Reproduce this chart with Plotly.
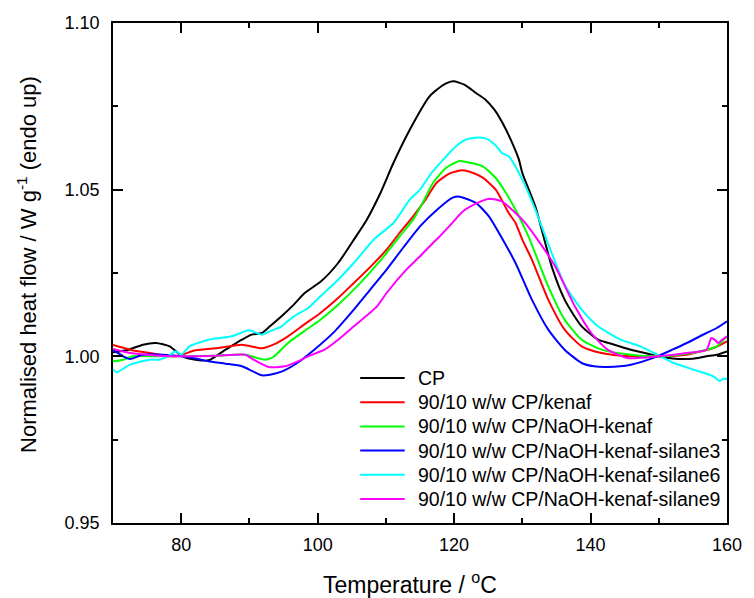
import plotly.graph_objects as go

# ---------------- data ----------------
cp_T = [70, 72, 74.4, 76.3, 78.3, 80.2, 82.1, 84, 86.5, 88.9, 90.3, 91.8, 93, 94.7, 96.5, 98.1,
        100.5, 103, 105.3, 107.2, 109.2, 111.1, 113.5, 116.4, 118.5, 119.9, 121.5, 123.2, 124.6,
        125.9, 127.1, 128.3, 129.5, 130, 131.9, 134.3, 136.2, 137.5, 138.7, 141.1, 143.5, 145.9,
        148, 149.8, 151.5, 153.1, 155, 157, 158.5, 160]
cp_v = [1.0012, 1.0018, 1.0035, 1.004, 1.003, 1.000, 0.999, 0.9988, 1.002, 1.005, 1.0065, 1.007,
        1.009, 1.012, 1.0155, 1.019, 1.0225, 1.028, 1.035, 1.041, 1.049, 1.058, 1.068, 1.078,
        1.0815, 1.0825, 1.0815, 1.079, 1.077, 1.074, 1.070, 1.065, 1.059, 1.055, 1.045, 1.027,
        1.017, 1.0125, 1.009, 1.005, 1.0035, 1.002, 1.001, 1.000, 0.9995, 0.9992, 0.9993, 1.000,
        1.0005, 1.0015]

kenaf_T = [70, 72.5, 75.4, 79.2, 82.1, 85.5, 88.9, 91.8, 93.5, 95.65, 98, 100.4, 103, 105.3,
           107.8, 110.1, 112, 114, 115.8, 117.4, 119.3, 121.2, 122.8, 124.2, 126.1, 128, 129,
           130, 131.4, 133.8, 136.2, 138.7, 141.6, 145.9, 149.8, 154.1, 158, 160]
kenaf_v = [1.0034, 1.002, 1.001, 1.000, 1.0018, 1.0025, 1.0035, 1.0024, 1.0035, 1.006, 1.0095,
           1.013, 1.0175, 1.022, 1.027, 1.032, 1.037, 1.042, 1.047, 1.052, 1.0548, 1.0558, 1.055,
           1.0536, 1.050, 1.043, 1.040, 1.035, 1.029, 1.017, 1.008, 1.003, 1.001, 1.000, 1.000,
           1.0005, 1.0025, 1.0045]

naoh_T = [70, 71.5, 72.9, 76, 80, 85, 89.4, 90.3, 92.3, 93.5, 95.65, 98, 100.4, 103, 105.3,
          107.8, 110.1, 112, 114, 115.5, 116.9, 118.8, 120.8, 122.5, 124.2, 126.1, 127.6, 129,
          130.9, 133.8, 136.2, 138.7, 141.6, 145.9, 149.8, 154.1, 157, 158.5, 160]
naoh_v = [0.9985, 0.999, 1.000, 1.000, 1.000, 1.0002, 1.0005, 1.000, 0.999, 0.9998, 1.004,
          1.0075, 1.011, 1.0155, 1.020, 1.0255, 1.031, 1.036, 1.041, 1.0465, 1.052, 1.0565,
          1.0586, 1.058, 1.057, 1.0535, 1.049, 1.044, 1.036, 1.021, 1.011, 1.005, 1.002, 1.0005,
          1.000, 1.0008, 1.002, 1.003, 1.006]

sil3_T = [70, 71.5, 72.5, 74.4, 77.3, 80, 82.5, 84, 86.5, 88.9, 90.5, 91.8, 93, 94.7, 97, 99.5,
          102.5, 105.3, 107.7, 110.1, 112.5, 115, 117.5, 119.8, 120.8, 123.2, 125.1, 127, 129,
          131.4, 133.8, 136.2, 138.7, 140.5, 142.5, 145.9, 149.8, 152, 154.1, 157, 158.5, 160]
sil3_v = [1.002, 1.000, 0.9992, 1.0005, 1.0005, 1.000, 0.9992, 0.9985, 0.9978, 0.997, 0.9955,
          0.9943, 0.9945, 0.9954, 0.998, 1.002, 1.0075, 1.014, 1.020, 1.026, 1.0325, 1.039, 1.044,
          1.0476, 1.0479, 1.046, 1.042, 1.0355, 1.028, 1.017, 1.008, 1.002, 0.998, 0.997, 0.9968,
          0.9975, 1.000, 1.002, 1.004, 1.007, 1.0085, 1.0105]

sil6_T = [70, 70.5, 72.5, 75.4, 76.8, 78, 79.2, 80, 81.2, 84, 87.4, 89.9, 91.8, 93, 94.7, 96.5,
          98.6, 100.4, 103, 105.3, 108.2, 111.1, 113.5, 115, 116.5, 118.4, 120, 121.7, 123, 124.6,
          126, 127, 128, 130, 131.9, 134.3, 136.2, 138.7, 141.1, 144.4, 147.3, 149.8, 152.2,
          155.1, 158, 158.9, 159.5, 160]
sil6_v = [0.9962, 0.9952, 0.9975, 0.999, 0.999, 1.000, 1.0015, 1.0005, 1.003, 1.005, 1.006,
          1.0078, 1.0065, 1.0075, 1.009, 1.012, 1.0145, 1.018, 1.023, 1.028, 1.035, 1.040, 1.047,
          1.050, 1.0545, 1.059, 1.0625, 1.065, 1.0656, 1.0654, 1.0635, 1.061, 1.060, 1.053, 1.044,
          1.031, 1.0215, 1.014, 1.009, 1.005, 1.003, 1.0005, 0.998, 0.996, 0.994, 0.9926, 0.9933,
          0.9932]

sil9_T = [70, 72.5, 75, 79.2, 85, 89.4, 90.6, 92.8, 95.2, 97.1, 98.6, 101, 103, 105.3, 108.7,
          110.1, 113, 115, 116.9, 117.9, 119.5, 121.3, 123.2, 125.1, 127, 129, 130, 131.9, 134.8,
          137.7, 140.1, 142.5, 145.4, 149.8, 154.1, 157, 157.7, 158.2, 158.7, 159.3, 160]
sil9_v = [1.0022, 1.001, 1.0005, 1.000, 1.0002, 1.0005, 0.999, 0.9968, 0.997, 0.9985, 1.000,
          1.002, 1.005, 1.009, 1.015, 1.019, 1.026, 1.030, 1.034, 1.036, 1.0395, 1.0435, 1.0458,
          1.0473, 1.0465, 1.043, 1.041, 1.036, 1.027, 1.015, 1.007, 1.002, 0.9995, 1.000, 1.001,
          1.002, 1.0055, 1.005, 1.004, 1.005, 1.006]

series_names = ["CP", "90/10 w/w CP/kenaf", "90/10 w/w CP/NaOH-kenaf",
                "90/10 w/w CP/NaOH-kenaf-silane3", "90/10 w/w CP/NaOH-kenaf-silane6",
                "90/10 w/w CP/NaOH-kenaf-silane9"]
series_T = [cp_T, kenaf_T, naoh_T, sil3_T, sil6_T, sil9_T]
series_v = [cp_v, kenaf_v, naoh_v, sil3_v, sil6_v, sil9_v]
colors = ["#000000", "#FF0000", "#00FF00", "#0000FF", "#00FFFF", "#FF00FF"]

x_range = [70, 160]
y_range = [0.95, 1.10]

# ---------------- figure ----------------
W, H = 754, 598
ML, MR, MT, MB = 113, 20, 23, 75
PW, PH = W - ML - MR, H - MT - MB
FONT = "Liberation Sans, Arial, sans-serif"

fig = go.Figure()
for name, T, v, c in zip(series_names, series_T, series_v, colors):
    fig.add_trace(go.Scatter(x=T, y=v, mode="lines", name=name,
                             line=dict(color=c, width=2, shape="spline", smoothing=0.6),
                             showlegend=False))

axis_common = dict(showline=True, linecolor="black", linewidth=1.5, mirror="ticks",
                   ticks="inside", ticklen=10, tickwidth=1.5, tickcolor="black",
                   showgrid=False, zeroline=False,
                   tickfont=dict(family=FONT, size=18, color="black"))

fig.update_xaxes(range=x_range, tick0=80, dtick=20,
                 minor=dict(ticks="inside", ticklen=5, tickwidth=1.5, tickcolor="black",
                            dtick=10, tick0=70, showgrid=False),
                 ticklabelstandoff=5, **axis_common)
fig.update_yaxes(range=y_range, tick0=0.95, dtick=0.05, tickformat=".2f",
                 minor=dict(ticks="inside", ticklen=5, tickwidth=1.5, tickcolor="black",
                            dtick=0.025, tick0=0.95, showgrid=False),
                 ticklabelstandoff=8, **axis_common)

def px2x(px):
    return (px - ML) / PW

def py2y(py):
    return (MT + PH - py) / PH

annotations = [
    dict(text="Temperature / <sup>o</sup>C", xref="paper", yref="paper",
         x=px2x(413), y=py2y(583), xanchor="center", yanchor="middle", showarrow=False,
         font=dict(family=FONT, size=23, color="black")),
    dict(text="Normalised heat flow / W g<sup>-1</sup> (endo up)", xref="paper", yref="paper",
         x=px2x(26), y=py2y(264), xanchor="center", yanchor="middle", textangle=-90,
         showarrow=False, font=dict(family=FONT, size=22, color="black")),
]

# manual legend (sample line + label)
leg_top, leg_step = 378, 24.2
shapes = []
for i, (name, c) in enumerate(zip(series_names, colors)):
    yy = py2y(leg_top + i * leg_step)
    shapes.append(dict(type="line", xref="paper", yref="paper", x0=px2x(363), x1=px2x(408),
                       y0=yy, y1=yy, line=dict(color=c, width=2)))
    annotations.append(dict(text=name, xref="paper", yref="paper", x=px2x(419), y=yy,
                            xanchor="left", yanchor="middle", showarrow=False,
                            font=dict(family=FONT, size=19.5, color="black")))

fig.update_layout(width=W, height=H, margin=dict(l=ML, r=MR, t=MT, b=MB),
                  plot_bgcolor="white", paper_bgcolor="white",
                  font=dict(family=FONT, color="black"),
                  annotations=annotations, shapes=shapes, showlegend=False)

fig.write_html("out.html")
